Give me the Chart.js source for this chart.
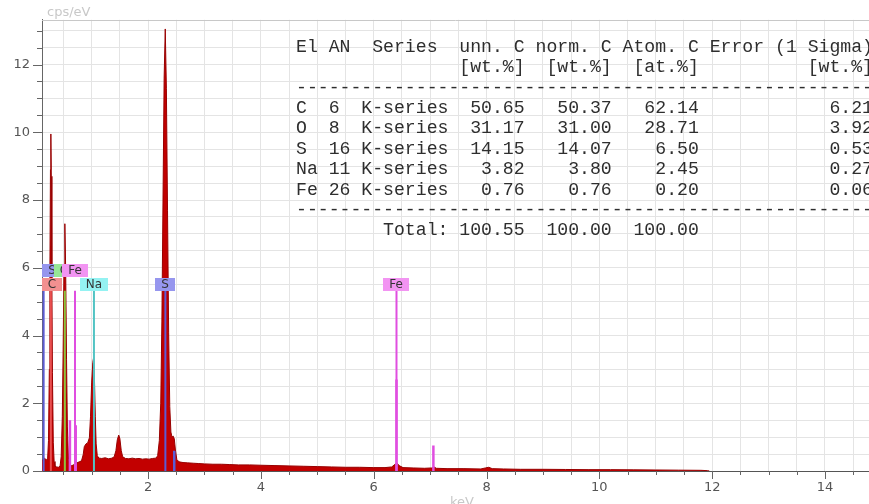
<!DOCTYPE html>
<html>
<head>
<meta charset="utf-8">
<script src="https://cdn.jsdelivr.net/npm/chart.js@4.4.1/dist/chart.umd.min.js"></script>
<style>
  html, body { margin: 0; padding: 0; background: #fff; overflow: hidden; }
  #wrap { width: 869px; height: 504px; position: relative; }
</style>
</head>
<body>
<div id="wrap"><canvas id="c" width="869" height="504"></canvas></div>
<script>
// EDS spectrum: energy (keV) and intensity (cps/eV)
const energyKeV = [
  0.12, 0.14, 0.16, 0.18, 0.20, 0.22, 0.235, 0.25, 0.26, 0.27, 0.277, 0.285, 0.295, 0.305, 0.32, 0.335, 0.35,
  0.38, 0.41, 0.44, 0.46, 0.48, 0.495, 0.51, 0.525, 0.54, 0.555, 0.57, 0.59, 0.61, 0.64, 0.67, 0.70, 0.74,
  0.78, 0.82, 0.85, 0.87, 0.90, 0.93, 0.96, 0.98, 1.00, 1.02, 1.035, 1.05, 1.065, 1.08, 1.10, 1.13, 1.18,
  1.24, 1.30, 1.36, 1.40, 1.43, 1.455, 1.48, 1.50, 1.525, 1.55, 1.60, 1.66, 1.72, 1.78, 1.84, 1.90, 1.96,
  2.02, 2.08, 2.14, 2.17, 2.20, 2.225, 2.245, 2.265, 2.285, 2.305, 2.325, 2.345, 2.365, 2.385, 2.405, 2.425,
  2.445, 2.465, 2.485, 2.51, 2.55, 2.62, 2.70, 2.80, 2.90, 3.00, 3.15, 3.30, 3.45, 3.60, 3.80, 4.00, 4.25,
  4.50, 4.75, 5.00, 5.25, 5.50, 5.75, 6.00, 6.20, 6.32, 6.38, 6.41, 6.45, 6.52, 6.70, 6.90, 7.03, 7.07, 7.11,
  7.30, 7.60, 7.90, 7.98, 8.04, 8.10, 8.30, 8.60, 9.00, 9.40, 9.80, 10.20, 10.60, 11.00, 11.40, 11.80, 11.92, 11.95
];
const countsCps = [
  0.30, 0.34, 0.38, 0.36, 0.32, 0.38, 0.90, 3.0, 5.9, 8.9, 9.95, 8.7, 5.7, 2.9, 0.85, 0.28, 0.14,
  0.12, 0.11, 0.14, 0.42, 1.6, 3.6, 6.1, 7.3, 5.9, 3.3, 1.3, 0.35, 0.18, 0.16, 0.17, 0.21, 0.24,
  0.27, 0.30, 0.48, 0.72, 0.80, 0.83, 0.98, 1.6, 2.6, 3.2, 3.35, 2.7, 1.6, 0.80, 0.45, 0.38, 0.37,
  0.39, 0.36, 0.38, 0.42, 0.60, 0.92, 1.06, 0.96, 0.60, 0.42, 0.37, 0.36, 0.38, 0.36, 0.37, 0.35, 0.36,
  0.35, 0.37, 0.38, 0.45, 0.90, 2.0, 4.4, 8.0, 11.6, 13.05, 11.3, 7.7, 4.1, 1.9, 1.15, 1.0,
  1.03, 0.95, 0.62, 0.34, 0.27, 0.25, 0.24, 0.23, 0.22, 0.21, 0.20, 0.20, 0.19, 0.18, 0.18, 0.17, 0.16,
  0.15, 0.14, 0.13, 0.12, 0.11, 0.11, 0.10, 0.10, 0.12, 0.20, 0.24, 0.16, 0.10, 0.09, 0.08, 0.09, 0.12, 0.08,
  0.07, 0.07, 0.06, 0.09, 0.11, 0.07, 0.06, 0.05, 0.05, 0.045, 0.04, 0.04, 0.035, 0.03, 0.025, 0.02, 0.01, 0
];

// Axis tick labels
const xTickLabels = [2, 4, 6, 8, 10, 12, 14];
const yTickLabels = [0, 2, 4, 6, 8, 10, 12];

// Identified element lines (labelled)
const lineElements = ['S', 'O', 'Fe', 'C', 'Na', 'S', 'Fe'];
const lineEnergies = [0.149, 0.525, 0.705, 0.277, 1.041, 2.307, 6.404];
const lineTops = [5.32, 5.32, 5.32, 5.32, 5.32, 5.32, 5.32];
const labelRows = [0, 0, 0, 1, 1, 1, 1];

// Additional (unlabelled) element lines
const extraElements = ['Fe', 'Fe', 'S', 'Fe', 'Fe'];
const extraEnergies = [0.615, 0.718, 2.464, 6.404, 7.058];
const extraTops = [1.5, 1.35, 0.6, 2.7, 0.75];

// Quantification table
const tableElements = ['C', 'O', 'S', 'Na', 'Fe'];
const tableAN = [6, 8, 16, 11, 26];
const tableSeries = ['K-series', 'K-series', 'K-series', 'K-series', 'K-series'];
const unnC = [50.65, 31.17, 14.15, 3.82, 0.76];
const normC = [50.37, 31.00, 14.07, 3.80, 0.76];
const atomC = [62.14, 28.71, 6.50, 2.45, 0.20];
const errorSigma = [6.21, 3.92, 0.53, 0.27, 0.06];
const totals = [100.55, 100.00, 100.00];

const lineColor = { S: '#5c5cd4', C: '#e85050', O: '#8cc43c', Fe: '#e04ee0', Na: '#52c4c4' };
const boxColor  = { S: '#9696ee', C: '#f29090', O: '#96e696', Fe: '#f294f2', Na: '#94f2f2' };

function halfSteps(lo, hi) {
  const out = [];
  for (let k = Math.round(lo * 2); k <= Math.round(hi * 2); k++) out.push({ value: k / 2 });
  return out;
}

const spectrum = {
  label: 'spectrum',
  data: energyKeV.map((e, i) => ({ x: e, y: countsCps[i] })),
  borderColor: '#980000',
  borderWidth: 1,
  backgroundColor: '#c20000',
  fill: 'origin',
  pointRadius: 0,
  tension: 0,
  order: 5
};

const markerSets = lineEnergies.map((e, i) => ({
  label: lineElements[i],
  data: [{ x: e, y: 0 }, { x: e, y: lineTops[i] }],
  borderColor: lineColor[lineElements[i]],
  borderWidth: 2,
  pointRadius: 0,
  fill: false,
  order: 1
}));

const extraSets = extraEnergies.map((e, i) => ({
  label: extraElements[i],
  data: [{ x: e, y: 0 }, { x: e, y: extraTops[i] }],
  borderColor: lineColor[extraElements[i]],
  borderWidth: 2.5,
  pointRadius: 0,
  fill: false,
  order: 0
}));

// Element label boxes above the marker lines (kept inside the plot area)
const elementLabels = {
  id: 'elementLabels',
  afterDatasetsDraw(chart) {
    const { ctx, chartArea: a, scales: { x, y } } = chart;
    ctx.save();
    ctx.beginPath();
    ctx.rect(a.left, a.top, a.right - a.left, a.bottom - a.top);
    ctx.clip();
    ctx.font = '12px "DejaVu Sans"';
    ctx.textAlign = 'center';
    ctx.textBaseline = 'middle';
    lineEnergies.forEach((e, i) => {
      const name = lineElements[i];
      const base = y.getPixelForValue(lineTops[i]);
      const h = 13;
      const top = labelRows[i] === 1 ? base - h : base - 2 * h - 1;
      const w = Math.round(ctx.measureText(name).width + 12);
      let left = Math.round(x.getPixelForValue(e) - w / 2);
      if (left < a.left) left = Math.round(a.left);
      ctx.fillStyle = boxColor[name];
      ctx.fillRect(left, Math.round(top), w, h);
      ctx.fillStyle = '#333';
      ctx.fillText(name, left + w / 2, top + h / 2 + 0.5);
    });
    ctx.restore();
  }
};

// Tick marks, plot frame and axis unit captions
const frame = {
  id: 'frame',
  afterDraw(chart) {
    const { ctx, chartArea: a, scales: { x, y } } = chart;
    ctx.save();
    ctx.strokeStyle = '#666';
    ctx.lineWidth = 1;
    ctx.beginPath();
    x.ticks.forEach(t => {
      const px = Math.round(x.getPixelForValue(t.value)) + 0.5;
      const len = xTickLabels.includes(t.value) ? 8 : 4;
      ctx.moveTo(px, a.bottom);
      ctx.lineTo(px, a.bottom + len);
    });
    y.ticks.forEach(t => {
      const py = Math.round(y.getPixelForValue(t.value)) + 0.5;
      const len = yTickLabels.includes(t.value) ? 9 : 5;
      ctx.moveTo(a.left, py);
      ctx.lineTo(a.left - len, py);
    });
    ctx.stroke();
    ctx.strokeStyle = '#c8c8c8';
    ctx.beginPath();
    ctx.moveTo(a.left, Math.round(a.top) + 0.5);
    ctx.lineTo(a.right, Math.round(a.top) + 0.5);
    ctx.stroke();

    ctx.fillStyle = '#c8c8c8';
    ctx.font = '13px "DejaVu Sans"';
    ctx.textAlign = 'left';
    ctx.textBaseline = 'alphabetic';
    ctx.fillText('cps/eV', a.left + 5, 16);
    ctx.textAlign = 'center';
    ctx.fillText('keV', 462, 506);
    ctx.restore();
  }
};

// Quantification results printed as fixed-width text
const quantTable = {
  id: 'quantTable',
  afterDraw(chart) {
    const { ctx } = chart;
    const f2 = v => v.toFixed(2);
    const lines = [
      'El AN  Series  unn. C norm. C Atom. C Error (1 Sigma)',
      ' '.repeat(15) + '[wt.%]  [wt.%]  [at.%]' + ' '.repeat(10) + '[wt.%]',
      '-'.repeat(53)
    ];
    tableElements.forEach((el, i) => {
      lines.push(
        el.padEnd(3) + String(tableAN[i]).padEnd(3) + tableSeries[i] +
        f2(unnC[i]).padStart(7) + f2(normC[i]).padStart(8) +
        f2(atomC[i]).padStart(8) + f2(errorSigma[i]).padStart(16)
      );
    });
    lines.push('-'.repeat(53));
    lines.push(' '.repeat(8) + 'Total:' + f2(totals[0]).padStart(7) + f2(totals[1]).padStart(8) + f2(totals[2]).padStart(8));
    ctx.save();
    ctx.fillStyle = '#2e2e2e';
    ctx.font = '18.15px "Liberation Mono"';
    ctx.textAlign = 'left';
    ctx.textBaseline = 'alphabetic';
    lines.forEach((s, k) => ctx.fillText(s, 296, 51.7 + 20.4 * k));
    ctx.restore();
  }
};

new Chart(document.getElementById('c'), {
  type: 'line',
  data: { datasets: [spectrum, ...markerSets, ...extraSets] },
  options: {
    responsive: false,
    animation: false,
    devicePixelRatio: 1,
    layout: { padding: { top: 18, right: 0, left: 0, bottom: 0 } },
    plugins: { legend: { display: false }, tooltip: { enabled: false } },
    scales: {
      x: {
        type: 'linear',
        min: 0.12,
        max: 14.78,
        afterBuildTicks: s => { s.ticks = halfSteps(0.5, 14.5); },
        afterFit: s => { s.height = 33; },
        grid: { color: '#e4e4e4', drawTicks: false },
        border: { color: '#555' },
        ticks: {
          padding: 9,
          color: '#555',
          font: { family: 'DejaVu Sans', size: 13 },
          maxRotation: 0,
          autoSkip: false,
          callback: v => (xTickLabels.includes(v) ? String(v) : '')
        }
      },
      y: {
        type: 'linear',
        min: 0,
        max: 13.32,
        afterBuildTicks: s => { s.ticks = halfSteps(0, 13); },
        afterFit: s => { s.width = 42; },
        grid: { color: '#e4e4e4', drawTicks: false },
        border: { color: '#666' },
        ticks: {
          padding: 12,
          color: '#555',
          font: { family: 'DejaVu Sans', size: 13 },
          autoSkip: false,
          callback: v => (yTickLabels.includes(v) ? String(v) : '')
        }
      }
    }
  },
  plugins: [elementLabels, frame, quantTable]
});
</script>
</body>
</html>
